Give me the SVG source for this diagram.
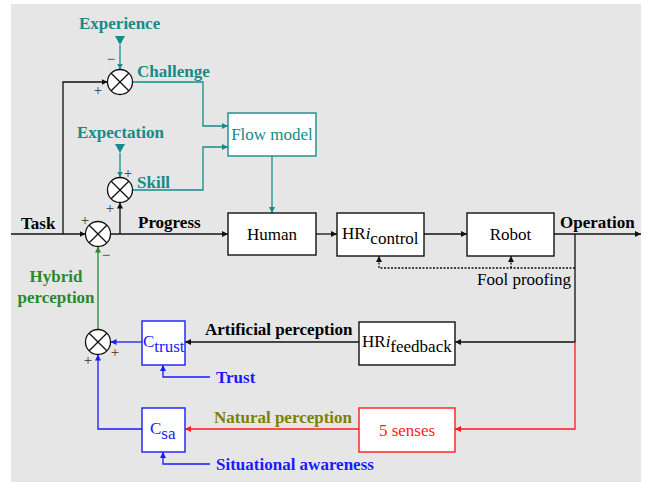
<svg xmlns="http://www.w3.org/2000/svg" width="647" height="483" viewBox="0 0 647 483">
<defs>
<style>
text{font-family:"Liberation Serif","Times New Roman",serif;}
.b{font-weight:bold;font-size:17px;}
.r{font-size:17px;}
.sg{font-size:15px;fill:#333;text-anchor:middle;dominant-baseline:central;}
.box{fill:#fff;stroke-width:1.4;}
.ln{fill:none;stroke-width:1.3;}
.k{stroke:#111;}
.t{stroke:#178a8a;}
.bl{stroke:#1a1aff;}
.rd{stroke:#ff1a1a;}
.g{stroke:#2a8a2a;}
.tc{fill:#178a8a;}
.bc{fill:#1a1aff;}
.jn circle{fill:#fff;stroke:#111;stroke-width:1.3;}
.jn path{stroke:#111;stroke-width:1.3;}
</style>
<marker id="ak" viewBox="0 0 6 6" refX="6" refY="3" markerWidth="6" markerHeight="6" markerUnits="userSpaceOnUse" orient="auto"><path d="M0,0L6,3L0,6z" fill="#111"/></marker>
<marker id="at" viewBox="0 0 6 6" refX="6" refY="3" markerWidth="6" markerHeight="6" markerUnits="userSpaceOnUse" orient="auto"><path d="M0,0L6,3L0,6z" fill="#178a8a"/></marker>
<marker id="ab" viewBox="0 0 6 6" refX="6" refY="3" markerWidth="6" markerHeight="6" markerUnits="userSpaceOnUse" orient="auto"><path d="M0,0L6,3L0,6z" fill="#1a1aff"/></marker>
<marker id="ar" viewBox="0 0 6 6" refX="6" refY="3" markerWidth="6" markerHeight="6" markerUnits="userSpaceOnUse" orient="auto"><path d="M0,0L6,3L0,6z" fill="#ff1a1a"/></marker>
<marker id="ag" viewBox="0 0 6 6" refX="6" refY="3" markerWidth="6" markerHeight="6" markerUnits="userSpaceOnUse" orient="auto"><path d="M0,0L6,3L0,6z" fill="#2a8a2a"/></marker>
</defs>
<rect x="11" y="4" width="630" height="478" fill="#e6e6e6"/>

<g id="connectors">
<path class="ln k" d="M11,234H85.5" marker-end="url(#ak)"/>
<path class="ln k" d="M63,234V82H107.5" marker-end="url(#ak)"/>
<polygon points="115,36 125,36 120,45" class="tc"/>
<path class="ln t" d="M120,45V69.5" marker-end="url(#at)"/>
<polygon points="115,144 125,144 120,153" class="tc"/>
<path class="ln t" d="M120,153V177.5" marker-end="url(#at)"/>
<path class="ln t" d="M132.5,82H203V126H228" marker-end="url(#at)"/>
<path class="ln t" d="M132.5,190H203V147H228" marker-end="url(#at)"/>
<path class="ln t" d="M272,156V213" marker-end="url(#at)"/>
<path class="ln k" d="M120,234V202.5" marker-end="url(#ak)"/>
<path class="ln k" d="M110.5,234H228" marker-end="url(#ak)"/>
<path class="ln k" d="M316,234H337" marker-end="url(#ak)"/>
<path class="ln k" d="M424,234H467" marker-end="url(#ak)"/>
<path class="ln k" d="M554,234H641" marker-end="url(#ak)"/>
<path class="ln k" d="M575,234V342H455" marker-end="url(#ak)"/>
<path class="ln rd" d="M575,342V429H455" marker-end="url(#ar)"/>
<path class="ln k" stroke-dasharray="2,1.5" d="M575,268H379V256" marker-end="url(#ak)"/>
<path class="ln k" stroke-dasharray="2,1.5" d="M511,268V256" marker-end="url(#ak)"/>
<path class="ln k" d="M359,342H185" marker-end="url(#ak)"/>
<path class="ln rd" d="M359,429H185" marker-end="url(#ar)"/>
<path class="ln bl" d="M142,342H110.5" marker-end="url(#ab)"/>
<path class="ln bl" d="M142,429H98V354.5" marker-end="url(#ab)"/>
<path class="ln bl" d="M210,377H163V365" marker-end="url(#ab)"/>
<path class="ln bl" d="M210,464H163V452" marker-end="url(#ab)"/>
<path class="ln g" d="M98,329.5V246.5" marker-end="url(#ag)"/>
</g>

<g id="sum-challenge" class="jn"><circle cx="120" cy="82" r="12.5"/><path d="M111.2,73.2L128.8,90.8M128.8,73.2L111.2,90.8"/></g>
<g id="sum-skill" class="jn"><circle cx="120" cy="190" r="12.5"/><path d="M111.2,181.2L128.8,198.8M128.8,181.2L111.2,198.8"/></g>
<g id="sum-progress" class="jn"><circle cx="98" cy="234" r="12.5"/><path d="M89.2,225.2L106.8,242.8M106.8,225.2L89.2,242.8"/></g>
<g id="sum-hybrid" class="jn"><circle cx="98" cy="342" r="12.5"/><path d="M89.2,333.2L106.8,350.8M106.8,333.2L89.2,350.8"/></g>

<g id="signs">
<text class="sg" x="111" y="59">−</text>
<text class="sg" x="98" y="90">+</text>
<text class="sg" x="128" y="173">+</text>
<text class="sg" x="110" y="208">+</text>
<text class="sg" x="85" y="220">+</text>
<text class="sg" x="106" y="255">−</text>
<text class="sg" x="115" y="352">+</text>
<text class="sg" x="88" y="360">+</text>
</g>

<g id="flow-model"><rect class="box t" x="228" y="113" width="88" height="43"/><text class="r tc" x="272" y="140" text-anchor="middle">Flow model</text></g>
<g id="human"><rect class="box k" x="228" y="213" width="88" height="42"/><text class="r" x="272" y="240" text-anchor="middle">Human</text></g>
<g id="hri-control"><rect class="box k" x="337" y="213" width="87" height="43"/><text class="r" x="342" y="239">HR<tspan font-style="italic">i</tspan><tspan dy="5">control</tspan></text></g>
<g id="robot"><rect class="box k" x="467" y="213" width="87" height="43"/><text class="r" x="510.5" y="240" text-anchor="middle">Robot</text></g>
<g id="hri-feedback"><rect class="box k" x="359" y="322" width="96" height="43"/><text class="r" x="362" y="347">HR<tspan font-style="italic">i</tspan><tspan dy="5">feedback</tspan></text></g>
<g id="five-senses"><rect class="box rd" x="359" y="408" width="96" height="44"/><text class="r" x="407" y="436" text-anchor="middle" fill="#ff1a1a">5 senses</text></g>
<g id="c-trust"><rect class="box bl" x="142" y="321" width="43" height="44"/><text class="r bc" x="143" y="347">C<tspan dy="5">trust</tspan></text></g>
<g id="c-sa"><rect class="box bl" x="142" y="408" width="43" height="44"/><text class="r bc" x="150" y="434">C<tspan dy="5">sa</tspan></text></g>

<g id="labels">
<text class="b tc" x="79" y="29">Experience</text>
<text class="b tc" x="137" y="77">Challenge</text>
<text class="b tc" x="77" y="138">Expectation</text>
<text class="b tc" x="137" y="188">Skill</text>
<text class="b" x="21" y="229">Task</text>
<text class="b" x="138" y="228">Progress</text>
<text class="b" x="560" y="228">Operation</text>
<text class="r" x="477" y="285">Fool proofing</text>
<text class="b" x="205" y="335">Artificial perception</text>
<text class="b" x="214" y="423" fill="#808000">Natural perception</text>
<text class="b bc" x="216" y="383">Trust</text>
<text class="b bc" x="216" y="470">Situational awareness</text>
<text class="b" x="56" y="282" text-anchor="middle" fill="#2a8a2a">Hybrid</text>
<text class="b" x="56" y="303" text-anchor="middle" fill="#2a8a2a">perception</text>
</g>
</svg>
